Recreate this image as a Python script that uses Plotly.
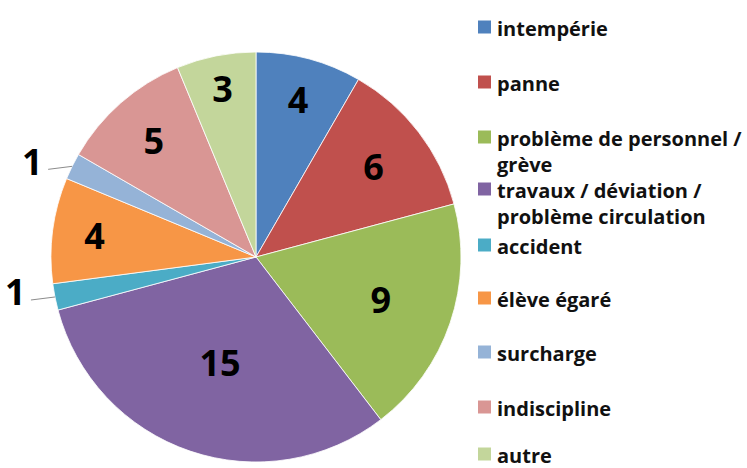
import math
import plotly.graph_objects as go

# Data
causes = [
    "intempérie",
    "panne",
    "problème de personnel / grève",
    "travaux / déviation / problème circulation",
    "accident",
    "élève égaré",
    "surcharge",
    "indiscipline",
    "autre",
]
legend_labels = [
    "intempérie",
    "panne",
    "problème de personnel /<br>grève",
    "travaux / déviation /<br>problème circulation",
    "accident",
    "élève égaré",
    "surcharge",
    "indiscipline",
    "autre",
]
counts = [4, 6, 9, 15, 1, 4, 1, 5, 3]
colors = ["#4F81BD", "#C0504D", "#9BBB59", "#8064A2", "#4BACC6",
          "#F79646", "#95B3D7", "#D99694", "#C3D69B"]

W, H = 747, 468
FONT = "Open Sans"

# pie geometry (pixels)
CX, CY, R = 256, 257, 205

small = [c == 1 for c in counts]

fig = go.Figure()

fig.add_trace(go.Pie(
    labels=causes,
    values=counts,
    sort=False,
    direction="clockwise",
    rotation=0,
    marker=dict(colors=colors, line=dict(color="white", width=0.8)),
    texttemplate=["" if s else "%{value}" for s in small],
    textposition="inside",
    insidetextorientation="horizontal",
    textfont=dict(family=FONT, size=36, color="black", weight=700),
    domain=dict(x=[(CX - R) / W, (CX + R) / W], y=[(H - CY - R) / H, (H - CY + R) / H]),
    showlegend=False,
    hoverinfo="label+value+percent",
))

# small slices: value label outside with a thin leader line
total = sum(counts)
cum = 0
for c, s in zip(counts, small):
    if s:
        ang = 2 * math.pi * (cum + c / 2) / total
        ex, ey = CX + R * math.sin(ang), CY - R * math.cos(ang)
        lx, ly = ex - 24, ey + 3
        fig.add_shape(
            type="line", xref="paper", yref="paper",
            x0=ex / W, y0=1 - ey / H, x1=lx / W, y1=1 - ly / H,
            line=dict(color="#8c8c8c", width=1),
        )
        fig.add_annotation(
            x=(lx - 3) / W, y=1 - (ly - 8) / H, xref="paper", yref="paper",
            xanchor="right", yanchor="middle", showarrow=False,
            text=str(c),
            font=dict(family=FONT, size=36, color="black", weight=700),
        )
    cum += c

# Legend drawn as annotations + square markers (Excel-like spacing)
legend_y = [27, 82, 137, 189, 245, 298, 352, 407, 454]
for lab, col, ypix in zip(legend_labels, colors, legend_y):
    fig.add_shape(
        type="rect", xref="paper", yref="paper",
        x0=478 / W, x1=491 / W,
        y0=1 - (ypix + 6.5) / H, y1=1 - (ypix - 6.5) / H,
        fillcolor=col, line=dict(width=0),
    )
    fig.add_annotation(
        x=495 / W, y=1 - (ypix - 14) / H, xref="paper", yref="paper",
        xanchor="left", yanchor="top", align="left", showarrow=False,
        text=f"<b>{lab}</b>",
        font=dict(family=FONT, size=20, color="#111111"),
    )

fig.update_layout(
    width=W, height=H,
    margin=dict(l=0, r=0, t=0, b=0),
    paper_bgcolor="white",
    plot_bgcolor="white",
)

# page body has a default 8px margin; remove it so the figure fills the window
fig.write_html("out.html", config={"displayModeBar": False},
               post_script="document.body.style.margin='0px';")
